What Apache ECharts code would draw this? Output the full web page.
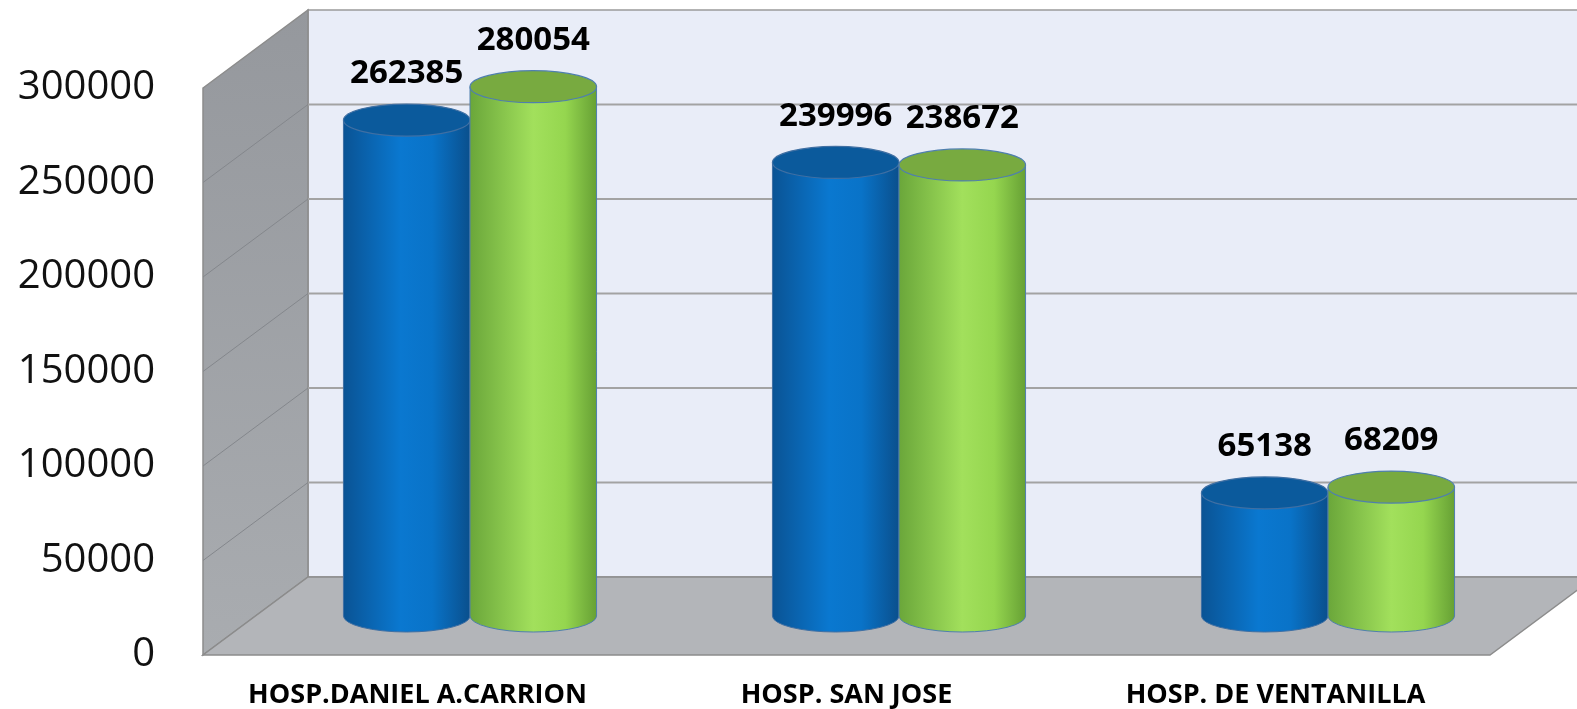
<!DOCTYPE html>
<html>
<head>
<meta charset="utf-8">
<script src="https://cdn.jsdelivr.net/npm/echarts@6/dist/echarts.min.js"></script>
<style>
  html, body { margin: 0; padding: 0; background: #fff; }
  #main { width: 1577px; height: 709px; }
</style>
</head>
<body>
<div id="main"></div>
<script>
const hospitals = ['HOSP.DANIEL A.CARRION', 'HOSP. SAN JOSE', 'HOSP. DE VENTANILLA'];
const serieAzul = [262385, 239996, 65138];
const serieVerde = [280054, 238672, 68209];
const yTicks = [0, 50000, 100000, 150000, 200000, 250000, 300000];

const chart = echarts.init(document.getElementById('main'));

// profundidad del "3D" en pixeles
const DX = 105, DY = -78;
const RY = 16;

const azulBody = {
    type: 'linear', x: 0, y: 0, x2: 1, y2: 0,
    colorStops: [
        { offset: 0, color: '#0a5394' },
        { offset: 0.45, color: '#0a78d0' },
        { offset: 0.7, color: '#0973c8' },
        { offset: 1, color: '#0a4f8c' }
    ]
};
const verdeBody = {
    type: 'linear', x: 0, y: 0, x2: 1, y2: 0,
    colorStops: [
        { offset: 0, color: '#6aa63a' },
        { offset: 0.5, color: '#a2e05c' },
        { offset: 0.75, color: '#95d64f' },
        { offset: 1, color: '#66a034' }
    ]
};

const walls = (params, api) => {
    const band = api.size([1, 0])[0];
    const x0 = api.coord([0, 0])[0] - band / 2;
    const x1 = x0 + band * hospitals.length;
    const y0 = api.coord([0, yTicks[0]])[1];
    const yTop = api.coord([0, yTicks[yTicks.length - 1]])[1];
    const edge = { stroke: '#8c8c8c', lineWidth: 1.5 };
    const children = [
        {
            type: 'rect',
            shape: { x: x0 + DX, y: yTop + DY, width: x1 - x0, height: y0 - yTop },
            style: { fill: '#e9edf8', stroke: '#9a9a9a', lineWidth: 1.5 }
        },
        {
            type: 'polygon',
            shape: { points: [[x0, yTop], [x0 + DX, yTop + DY], [x0 + DX, y0 + DY], [x0, y0]] },
            style: Object.assign({
                fill: { type: 'linear', x: 0, y: 0, x2: 0, y2: 1,
                    colorStops: [{ offset: 0, color: '#95989d' }, { offset: 1, color: '#a9acb0' }] }
            }, edge)
        },
        {
            type: 'polygon',
            shape: { points: [[x0, y0], [x1, y0], [x1 + DX, y0 + DY], [x0 + DX, y0 + DY]] },
            style: Object.assign({ fill: '#b3b5b9' }, edge)
        }
    ];
    yTicks.slice(1, -1).forEach(v => {
        const y = api.coord([0, v])[1];
        children.push({
            type: 'line',
            shape: { x1: x0 + DX, y1: y + DY, x2: x1 + DX, y2: y + DY },
            style: { stroke: '#a3a3a3', lineWidth: 2 }
        });
        children.push({
            type: 'line',
            shape: { x1: x0, y1: y, x2: x0 + DX, y2: y + DY },
            style: { stroke: '#84878c', lineWidth: 1 }
        });
    });
    return { type: 'group', children: children };
};

const cylinder = (slot, body, top, outline) => (params, api) => {
    const band = api.size([1, 0])[0];
    const w = band * 0.295;
    const idx = api.value(0);
    const val = api.value(1);
    const cx = api.coord([idx, 0])[0] + (slot - 0.5) * w + DX / 2;
    const yb = api.coord([idx, 0])[1] + DY / 2;
    const yt = api.coord([idx, val])[1] + DY / 2;
    const rx = w / 2;
    const xl = cx - rx, xr = cx + rx;
    const bodyPath = `M${xl},${yt} L${xl},${yb} A${rx},${RY} 0 0 0 ${xr},${yb} L${xr},${yt} Z`;
    const topPath = `M${xl},${yt} A${rx},${RY} 0 0 1 ${xr},${yt} A${rx},${RY} 0 0 1 ${xl},${yt} Z`;
    return {
        type: 'group',
        children: [
            { type: 'path', shape: { pathData: bodyPath }, style: { fill: body, stroke: outline, lineWidth: 1 } },
            { type: 'path', shape: { pathData: topPath }, style: { fill: top, stroke: outline, lineWidth: 1.2 } },
            {
                type: 'text',
                x: cx, y: yt - 46,
                style: {
                    text: String(val),
                    fill: '#000',
                    font: 'bold 33px "Open Sans"',
                    align: 'center',
                    verticalAlign: 'middle'
                }
            }
        ]
    };
};

const option = {
    animation: false,
    grid: { left: 203, right: 87, top: 88, bottom: 54 },
    xAxis: {
        type: 'category',
        data: hospitals,
        axisLine: { show: false },
        axisTick: { show: false },
        axisLabel: {
            interval: 0,
            margin: 27,
            color: '#000',
            fontFamily: 'Open Sans',
            fontWeight: 'bold',
            fontSize: 27
        }
    },
    yAxis: {
        type: 'value',
        min: 0,
        max: 300000,
        interval: 50000,
        splitLine: { show: false },
        axisLine: { show: false },
        axisTick: { show: false },
        axisLabel: {
            margin: 48,
            color: '#111',
            fontFamily: 'Open Sans',
            fontSize: 40,
            formatter: v => String(v)
        }
    },
    series: [
        {
            type: 'custom',
            z: 1,
            clip: false,
            silent: true,
            renderItem: walls,
            data: [[0, 0]]
        },
        {
            type: 'custom',
            z: 2,
            clip: false,
            renderItem: cylinder(0, azulBody, '#0b5a9c', '#3f6fa3'),
            data: serieAzul.map((v, i) => [i, v])
        },
        {
            type: 'custom',
            z: 3,
            clip: false,
            renderItem: cylinder(1, verdeBody, '#78aa40', '#4f7fae'),
            data: serieVerde.map((v, i) => [i, v])
        }
    ]
};

chart.setOption(option);
</script>
</body>
</html>
